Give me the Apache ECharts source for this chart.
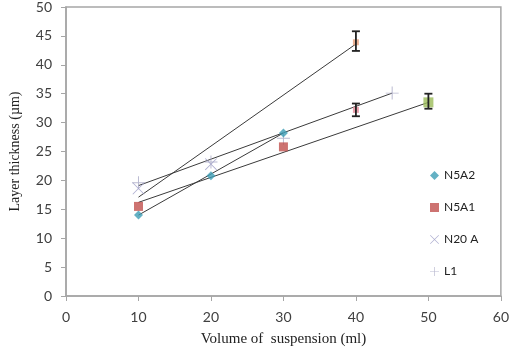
<!DOCTYPE html>
<html>
<head>
<meta charset="utf-8">
<script src="https://cdn.jsdelivr.net/npm/echarts@6/dist/echarts.min.js"></script>
<style>
  html, body { margin: 0; padding: 0; background: #fff; }
  #chart { width: 512px; height: 359px; }
</style>
</head>
<body>
<div id="chart"></div>
<script>
// measured points
const n5a2 = [[10, 14.0], [20, 20.8], [30, 28.2]]
const n5a1 = [[10, 15.5], [30, 25.8]]
const n20a = [[10, 18.6], [20, 22.8]]
const l1 = [[10, 19.6], [20, 23.2], [30, 27.3], [45, 35.1]]

// odd coloured points sitting on the error bars
const extraPts = [[40, 43.9], [40, 32.2], [50, 33.5]]
const extraColors = ["#e8a07a", "#e58a98", "#9bbb59"]

// trend lines (end points)
const trendN20a = [[10, 17.1], [40, 43.6]]
const trendL1 = [[10, 19.1], [45, 35.1]]
const trendN5a1 = [[10, 16.2], [50, 33.5]]
const trendN5a2 = [[10, 14.0], [30, 28.2]]

// error bars
const errX = [40, 40, 50]
const errLow = [42.4, 31.1, 32.4]
const errHigh = [45.8, 33.3, 35.0]

const xTicks = [0, 10, 20, 30, 40, 50, 60]
const yTicks = [0, 5, 10, 15, 20, 25, 30, 35, 40, 45, 50]

const crossPath = "path://M0,1L1,0L10,9L19,0L20,1L11,10L20,19L19,20L10,11L1,20L0,19L9,10Z"
const plusPath = "path://M9.25,0h1.5v9.25h9.25v1.5h-9.25v9.25h-1.5v-9.25h-9.25v-1.5h9.25Z"

const chart = echarts.init(document.getElementById("chart"))

function trend(data) {
    return {
        type: "line",
        data: data,
        symbol: "none",
        silent: true,
        lineStyle: { color: "#3a3a3a", width: 1 },
        z: 2
    }
}

const errData = errX.map((x, i) => [x, errLow[i], errHigh[i]])

chart.setOption({
    animation: false,
    grid: {
        left: 61, right: 10, top: 5, bottom: 63,
        show: true, borderColor: "#a6a6a6", borderWidth: 1.5
    },
    xAxis: {
        type: "value",
        min: xTicks[0], max: xTicks[xTicks.length - 1], interval: 10,
        name: "Volume of  suspension (ml)",
        nameLocation: "middle",
        nameGap: 36,
        nameTextStyle: { fontFamily: "Liberation Serif", fontSize: 15, color: "#222" },
        axisLine: { lineStyle: { color: "#a6a6a6", width: 1.5 } },
        axisTick: { show: true, length: 5, lineStyle: { color: "#a6a6a6" } },
        axisLabel: { fontFamily: "Lato", fontSize: 14, color: "#404040", margin: 14 },
        splitLine: { show: false }
    },
    yAxis: {
        type: "value",
        min: yTicks[0], max: yTicks[yTicks.length - 1], interval: 5,
        name: "Layer thickness (µm)",
        nameLocation: "middle",
        nameGap: 44,
        nameTextStyle: { fontFamily: "Liberation Serif", fontSize: 14, color: "#222" },
        axisLine: { show: true, lineStyle: { color: "#a6a6a6", width: 1.5 } },
        axisTick: { show: true, length: 5, lineStyle: { color: "#a6a6a6" } },
        axisLabel: { fontFamily: "Lato", fontSize: 14, color: "#404040", margin: 14 },
        splitLine: { show: false }
    },
    legend: {
        orient: "vertical",
        left: 425, top: 163,
        itemGap: 17,
        itemWidth: 9, itemHeight: 9,
        textStyle: { fontFamily: "Lato", fontSize: 12, color: "#222", lineHeight: 15 },
        data: [
            { name: "N5A2", icon: "diamond" },
            { name: "N5A1", icon: "rect" },
            { name: "N20 A", icon: crossPath },
            { name: "L1", icon: plusPath }
        ]
    },
    series: [
        trend(trendN20a),
        trend(trendL1),
        trend(trendN5a1),
        trend(trendN5a2),
        {
            name: "N5A2", type: "scatter", data: n5a2,
            symbol: "diamond", symbolSize: 9,
            itemStyle: { color: "#3d9db5" }, z: 4
        },
        {
            name: "N5A1", type: "scatter", data: n5a1,
            symbol: "rect", symbolSize: 9,
            itemStyle: { color: "#c0504d" }, z: 4
        },
        {
            name: "N20 A", type: "scatter", data: n20a,
            symbol: crossPath, symbolSize: 12,
            itemStyle: { color: "#9a9ac6" }, z: 3
        },
        {
            name: "L1", type: "scatter", data: l1,
            symbol: plusPath, symbolSize: 13,
            itemStyle: { color: "#a8a8c4" }, z: 3
        },
        {
            name: "extra", type: "scatter",
            data: extraPts.map((p, i) => ({ value: p, itemStyle: { color: extraColors[i] } })),
            symbol: "rect",
            symbolSize: (v, p) => p.dataIndex === 2 ? 10 : 6,
            z: 4
        },
        {
            name: "err", type: "custom", data: errData, z: 5,
            renderItem: (params, api) => {
                const top = api.coord([api.value(0), api.value(2)])
                const bot = api.coord([api.value(0), api.value(1)])
                const w = 4
                const st = { stroke: "#222", lineWidth: 1.8 }
                return {
                    type: "group",
                    children: [
                        { type: "line", shape: { x1: top[0], y1: top[1], x2: bot[0], y2: bot[1] }, style: st },
                        { type: "line", shape: { x1: top[0] - w, y1: top[1], x2: top[0] + w, y2: top[1] }, style: st },
                        { type: "line", shape: { x1: bot[0] - w, y1: bot[1], x2: bot[0] + w, y2: bot[1] }, style: st }
                    ]
                }
            }
        }
    ]
})
</script>
</body>
</html>
